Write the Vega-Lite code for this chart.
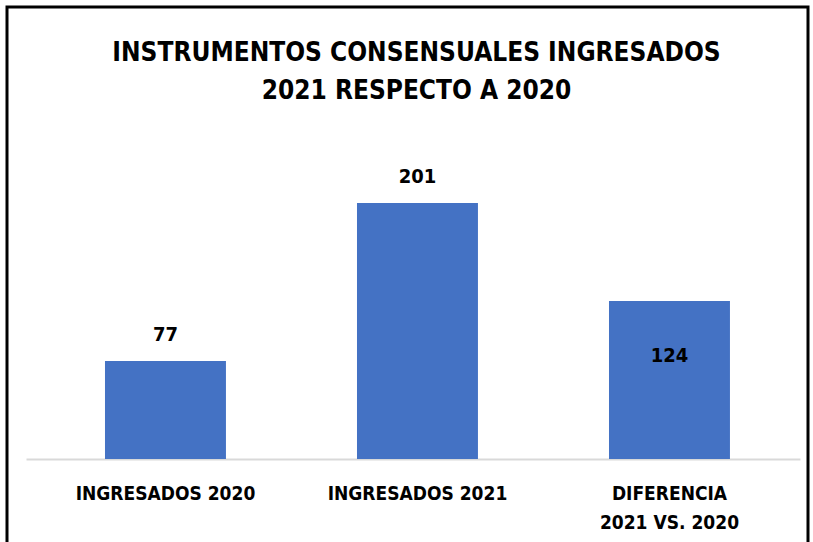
{
  "$schema": "https://vega.github.io/schema/vega-lite/v6.json",
  "autosize": {"type": "none"},
  "width": 801,
  "height": 540,
  "padding": {"left": 7, "top": 7, "right": 5, "bottom": 0},
  "background": "white",
  "config": {
    "view": {"stroke": "black", "strokeWidth": 3},
    "font": "Liberation Sans Narrow, DejaVu Sans Condensed, sans-serif"
  },
  "title": {
    "text": ["INSTRUMENTOS CONSENSUALES INGRESADOS", "2021 RESPECTO A 2020"],
    "orient": "top",
    "frame": "group",
    "anchor": "middle",
    "offset": -97,
    "dx": 9,
    "fontSize": 26,
    "lineHeight": 38,
    "fontWeight": "bold",
    "color": "#000000",
    "font": "Liberation Sans Narrow, DejaVu Sans Condensed, sans-serif"
  },
  "data": {
    "values": [
      {"categoria": "INGRESADOS 2020", "valor": 77},
      {"categoria": "INGRESADOS 2021", "valor": 201},
      {"categoria": "DIFERENCIA 2021 VS. 2020", "valor": 124}
    ]
  },
  "encoding": {
    "x": {
      "field": "categoria",
      "type": "nominal",
      "sort": null,
      "scale": {"range": [19, 793], "paddingInner": 0.52, "paddingOuter": 0.2957, "align": 0.53},
      "axis": {
        "title": null,
        "orient": "bottom",
        "offset": -88,
        "labelAngle": 0,
        "ticks": false,
        "domainColor": "#d9d9d9",
        "domainWidth": 2,
        "labelFontSize": 19,
        "labelFontWeight": "bold",
        "labelColor": "#000000",
        "labelPadding": 25,
        "labelBaseline": "top",
        "labelLineHeight": 29,
        "labelExpr": "datum.value == 'DIFERENCIA 2021 VS. 2020' ? ['DIFERENCIA', '2021 VS. 2020'] : datum.value"
      }
    },
    "y": {
      "field": "valor",
      "type": "quantitative",
      "scale": {"domain": [0, 250], "range": [452, 133.6], "nice": false, "zero": true},
      "axis": null
    }
  },
  "layer": [
    {"mark": {"type": "bar", "color": "#4472C4"}},
    {
      "transform": [{"filter": "datum.categoria != 'DIFERENCIA 2021 VS. 2020'"}],
      "mark": {"type": "text", "baseline": "middle", "dy": -26, "fontSize": 20, "fontWeight": "bold", "color": "#000000"},
      "encoding": {"text": {"field": "valor", "type": "quantitative"}}
    },
    {
      "transform": [{"filter": "datum.categoria == 'DIFERENCIA 2021 VS. 2020'"}],
      "mark": {"type": "text", "baseline": "middle", "dy": 55, "fontSize": 20, "fontWeight": "bold", "color": "#000000"},
      "encoding": {"text": {"field": "valor", "type": "quantitative"}}
    }
  ]
}
